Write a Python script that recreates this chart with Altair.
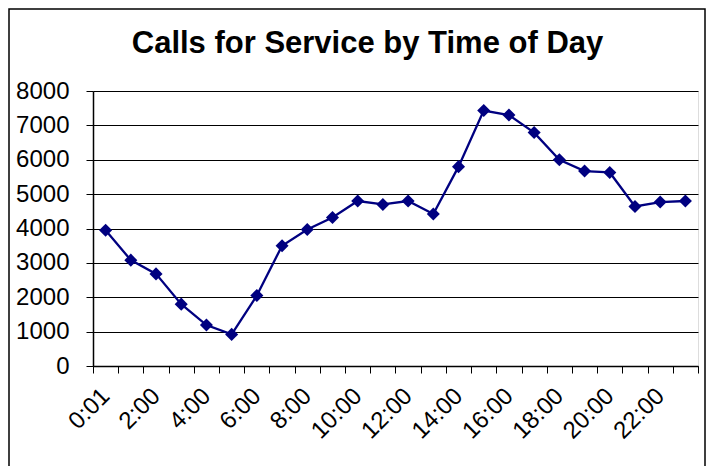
import json
import altair as alt
import pandas as pd

# ---- data ----
hours = ["0:01", "1:00", "2:00", "3:00", "4:00", "5:00", "6:00", "7:00",
         "8:00", "9:00", "10:00", "11:00", "12:00", "13:00", "14:00", "15:00",
         "16:00", "17:00", "18:00", "19:00", "20:00", "21:00", "22:00", "23:00"]
calls = [3950, 3080, 2680, 1800, 1190, 920, 2050, 3500,
         3970, 4320, 4800, 4700, 4800, 4420, 5800, 7430,
         7300, 6790, 6000, 5670, 5630, 4640, 4770, 4800]
y_ticks = [0, 1000, 2000, 3000, 4000, 5000, 6000, 7000, 8000]
title_text = "Calls for Service by Time of Day"

df = pd.DataFrame({"hour": hours, "calls": calls})

shown = hours[::2]
label_expr = f"indexof({json.dumps(shown)}, datum.value) >= 0 ? datum.value : ''"

FONT = "Liberation Sans"
NAVY = "#000080"

x_enc = alt.X(
    "hour:N",
    sort=hours,
    bandPosition=0.5,
    scale=alt.Scale(type="band", paddingInner=0, paddingOuter=0),
    axis=alt.Axis(
        title=None,
        labelExpr=label_expr,
        labelAngle=-45,
        labelAlign="right",
        labelBaseline="middle",
        labelFont=FONT,
        labelFontSize=24,
        labelColor="black",
        labelPadding=19,
        labelOverlap=False,
        tickBand="extent",
        tickSize=7,
        tickColor="black",
        domainColor="black",
        domainWidth=1.5,
        grid=False,
    ),
)
y_enc = alt.Y(
    "calls:Q",
    scale=alt.Scale(domain=[0, 8000], nice=False),
    axis=alt.Axis(
        title=None,
        values=y_ticks,
        format="d",
        labelFont=FONT,
        labelFontSize=24,
        labelColor="black",
        labelPadding=17,
        tickSize=7,
        tickColor="black",
        domainColor="black",
        domainWidth=1.5,
        grid=True,
        gridColor="black",
        gridWidth=1,
    ),
)

base = alt.Chart(df)
line = base.mark_line(color=NAVY, strokeWidth=2.3).encode(x=x_enc, y=y_enc)
points = base.mark_point(shape="diamond", filled=True, size=170, color=NAVY, opacity=1).encode(x=x_enc, y=y_enc)

frame = alt.Chart(pd.DataFrame({"a": [0]})).mark_rect(
    fillOpacity=0, stroke="black", strokeWidth=1.5
).encode(x=alt.value(-84), x2=alt.value(612), y=alt.value(-82), y2=alt.value(420))

chart = alt.layer(frame, line, points).properties(
    width=605,
    height=275,
    padding={"left": 85, "top": 83, "right": 9, "bottom": 100},
    autosize=alt.AutoSizeParams(type="none"),
    title=alt.TitleParams(
        text=title_text,
        font=FONT,
        fontSize=31,
        fontWeight="bold",
        color="black",
        anchor="middle",
        frame="group",
        dx=-28,
        baseline="alphabetic",
        offset=-76,
    ),
).configure_view(stroke="#808080", strokeWidth=1).configure(background="white")

chart.save("out.html", embed_options={"renderer": "svg", "actions": False})
